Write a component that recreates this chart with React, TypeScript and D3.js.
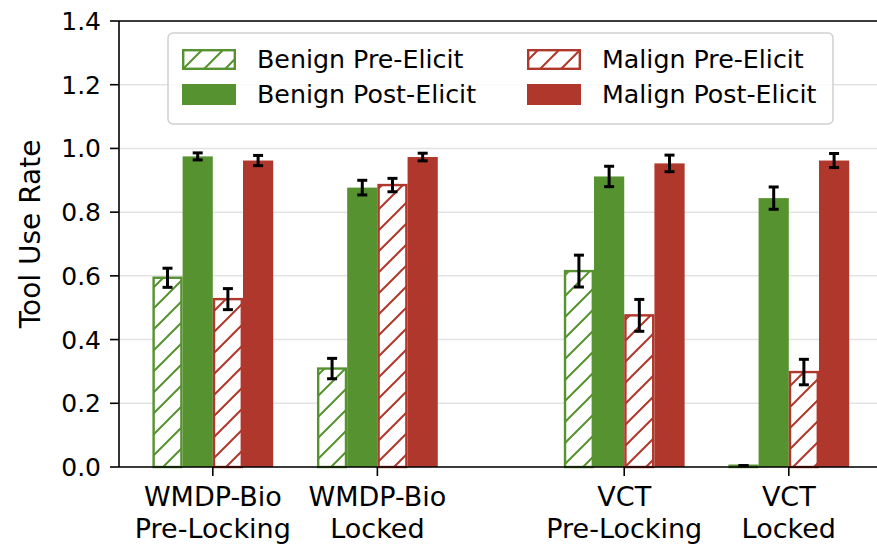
import React from 'react';
import * as d3 from 'd3';

const groups = ['WMDP-Bio\nPre-Locking', 'WMDP-Bio\nLocked', 'VCT\nPre-Locking', 'VCT\nLocked'];
const groupPos = [0, 1, 2.5, 3.5];
const seriesNames = ['Benign Pre-Elicit', 'Benign Post-Elicit', 'Malign Pre-Elicit', 'Malign Post-Elicit'];
const benignPre = [0.594, 0.309, 0.615, 0.004];
const benignPreErr = [0.03, 0.032, 0.05, 0.0];
const benignPost = [0.975, 0.877, 0.912, 0.844];
const benignPostErr = [0.011, 0.023, 0.032, 0.035];
const malignPre = [0.527, 0.885, 0.476, 0.298];
const malignPreErr = [0.033, 0.021, 0.05, 0.04];
const malignPost = [0.962, 0.973, 0.953, 0.962];
const malignPostErr = [0.016, 0.012, 0.026, 0.022];
const yTicks = [0, 0.2, 0.4, 0.6, 0.8, 1.0, 1.2, 1.4];

const GREEN = '#56922f';
const RED = '#b0372b';

type Series = { name: string; values: number[]; errs: number[]; color: string; hatched: boolean };

const series: Series[] = [
  { name: seriesNames[0], values: benignPre, errs: benignPreErr, color: GREEN, hatched: true },
  { name: seriesNames[1], values: benignPost, errs: benignPostErr, color: GREEN, hatched: false },
  { name: seriesNames[2], values: malignPre, errs: malignPreErr, color: RED, hatched: true },
  { name: seriesNames[3], values: malignPost, errs: malignPostErr, color: RED, hatched: false },
];

const App: React.FC = () => {
  const width = 877;
  const height = 545;
  const left = 119;
  const top = 21;
  const bottom = 467;
  const font = 'DejaVu Sans, sans-serif';

  const x = d3.scaleLinear().domain([-0.57, 4.036]).range([left, width]);
  const y = d3.scaleLinear().domain([0, 1.4]).range([bottom, top]);
  const barW = 0.1835;
  const bw = x(barW) - x(0);

  const hatchId = (c: string) => `hatch-${c.slice(1)}`;

  return (
    <svg width={width} height={height} style={{ position: 'absolute', left: 0, top: 0, background: '#fff' }} fontFamily={font}>
      <defs>
        {[GREEN, RED].map((c) => (
          <pattern key={c} id={hatchId(c)} patternUnits="userSpaceOnUse" width={21} height={21}>
            <rect width={21} height={21} fill="#fff" />
            <path d="M0,21 L21,0 M-5,5 L5,-5 M16,26 L26,16" stroke={c} strokeWidth={2} />
          </pattern>
        ))}
      </defs>

      {/* grid */}
      {yTicks.map((t) => (
        <line key={`g${t}`} x1={left} x2={width} y1={y(t)} y2={y(t)} stroke="#e3e3e3" strokeWidth={1.5} />
      ))}

      {/* bars */}
      {series.map((s, si) => (
        <g key={s.name}>
          {s.values.map((v, gi) => {
            const cx = x(groupPos[gi] + (si - 1.5) * barW);
            const x0 = cx - bw / 2;
            return s.hatched ? (
              <rect key={gi} x={x0 + 1.2} y={y(v)} width={bw - 2.4} height={Math.max(0, bottom - y(v))}
                fill={`url(#${hatchId(s.color)})`} stroke={s.color} strokeWidth={2.4} />
            ) : (
              <rect key={gi} x={x0} y={y(v)} width={bw} height={bottom - y(v)} fill={s.color} />
            );
          })}
        </g>
      ))}

      {/* error bars */}
      {series.map((s, si) => (
        <g key={`e${s.name}`} stroke="#000" strokeWidth={3}>
          {s.values.map((v, gi) => {
            const cx = x(groupPos[gi] + (si - 1.5) * barW);
            const y1 = y(v - s.errs[gi]);
            const y2 = y(v + s.errs[gi]);
            return (
              <g key={gi}>
                <line x1={cx} x2={cx} y1={y1} y2={y2} />
                <line x1={cx - 5} x2={cx + 5} y1={y1} y2={y1} />
                <line x1={cx - 5} x2={cx + 5} y1={y2} y2={y2} />
              </g>
            );
          })}
        </g>
      ))}

      {/* axes */}
      <line x1={left} x2={width} y1={top} y2={top} stroke="#000" strokeWidth={1.6} />
      <line x1={left} x2={width} y1={bottom} y2={bottom} stroke="#000" strokeWidth={1.6} />
      <line x1={left} x2={left} y1={top} y2={bottom} stroke="#000" strokeWidth={1.6} />

      {yTicks.map((t) => (
        <g key={`y${t}`} transform={`translate(${left},${y(t)})`}>
          <line x2={-9} stroke="#000" strokeWidth={1.6} />
          <text x={-18} dy="0.36em" textAnchor="end" fontSize={25} fill="#000">{t.toFixed(1)}</text>
        </g>
      ))}

      {groups.map((g, gi) => (
        <g key={g} transform={`translate(${x(groupPos[gi])},${bottom})`}>
          <line y2={9} stroke="#000" strokeWidth={1.6} />
          {g.split('\n').map((ln, li) => (
            <text key={li} y={39 + li * 32} textAnchor="middle" fontSize={27} fill="#000">{ln}</text>
          ))}
        </g>
      ))}

      <text transform={`translate(40,234) rotate(-90)`} textAnchor="middle" fontSize={28} fill="#000">Tool Use Rate</text>

      {/* legend */}
      <rect x={168} y={33} width={665} height={91} rx={5} fill="#fff" fillOpacity={0.8} stroke="#d0d0d0" strokeWidth={1.5} />
      {series.map((s, si) => {
        const col = Math.floor(si / 2);
        const row = si % 2;
        const px = col === 0 ? 182 : 527;
        const py = row === 0 ? 49 : 84;
        return (
          <g key={`l${s.name}`}>
            {s.hatched ? (
              <rect x={px + 1.2} y={py + 1.2} width={51.6} height={18.6} fill={`url(#${hatchId(s.color)})`} stroke={s.color} strokeWidth={2.4} />
            ) : (
              <rect x={px} y={py} width={54} height={21} fill={s.color} />
            )}
            <text x={px + 75} y={py + 19} fontSize={25.3} fill="#000">{s.name}</text>
          </g>
        );
      })}
    </svg>
  );
};

export default App;
